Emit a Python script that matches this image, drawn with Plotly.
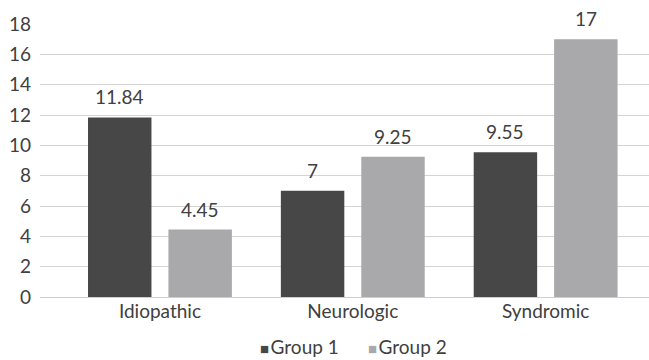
import plotly.graph_objects as go

categories = ["Idiopathic", "Neurologic", "Syndromic"]
group1 = [11.84, 7, 9.55]
group2 = [4.45, 9.25, 17]
group1_labels = ["11.84", "7", "9.55"]
group2_labels = ["4.45", "9.25", "17"]
series_names = ["Group 1", "Group 2"]
y_ticks = [0, 2, 4, 6, 8, 10, 12, 14, 16, 18]

FONT = "Lato"
TEXT = "#404040"
SIZE = 19
COLORS = ["#474747", "#a9a9ab"]
BARGAP = 0.166
GROUPGAP = 0.211

fig = go.Figure()
for name, vals, color in zip(series_names, (group1, group2), COLORS):
    fig.add_trace(go.Bar(name=name, x=categories, y=vals,
                         marker=dict(color=color, line=dict(width=0))))

# value labels above each bar, offset to the centre of its slot
slot = (1 - BARGAP) / 2
for i in range(len(categories)):
    for vals, labels, sign in ((group1, group1_labels, -1), (group2, group2_labels, 1)):
        fig.add_annotation(x=i + sign * slot / 2, y=vals[i], text=labels[i],
                           showarrow=False, yanchor="bottom", yshift=7,
                           font=dict(family=FONT, size=SIZE, color=TEXT))

# compact legend row under the axis
legend_parts = [
    f"<span style='color:{c};font-size:15px'>■</span><span style='font-size:6px'> </span>{n}"
    for n, c in zip(series_names, COLORS)
]
fig.add_annotation(xref="paper", yref="paper", x=0.515, y=-0.18,
                   text="      ".join(legend_parts), showarrow=False,
                   xanchor="center", yanchor="middle", borderpad=0,
                   font=dict(family=FONT, size=SIZE, color=TEXT))

fig.update_layout(
    width=649, height=360,
    margin=dict(l=40, r=0, t=24, b=63),
    paper_bgcolor="white", plot_bgcolor="white",
    barmode="group", bargap=BARGAP, bargroupgap=GROUPGAP,
    font=dict(family=FONT, size=SIZE, color=TEXT),
    showlegend=False,
    xaxis=dict(range=[-0.622, 2.536], showgrid=False, zeroline=False,
               showline=False, ticks="", tickfont=dict(size=SIZE, color=TEXT),
               ticklabelstandoff=1),
    yaxis=dict(range=[0, 18], tickvals=y_ticks, showgrid=True,
               gridcolor="#d4d4d4", gridwidth=1, zeroline=True,
               zerolinecolor="#cfcfcf", zerolinewidth=1, showline=False,
               ticks="", tickfont=dict(size=SIZE, color=TEXT),
               ticklabelstandoff=8),
)

fig.write_html("out.html")
